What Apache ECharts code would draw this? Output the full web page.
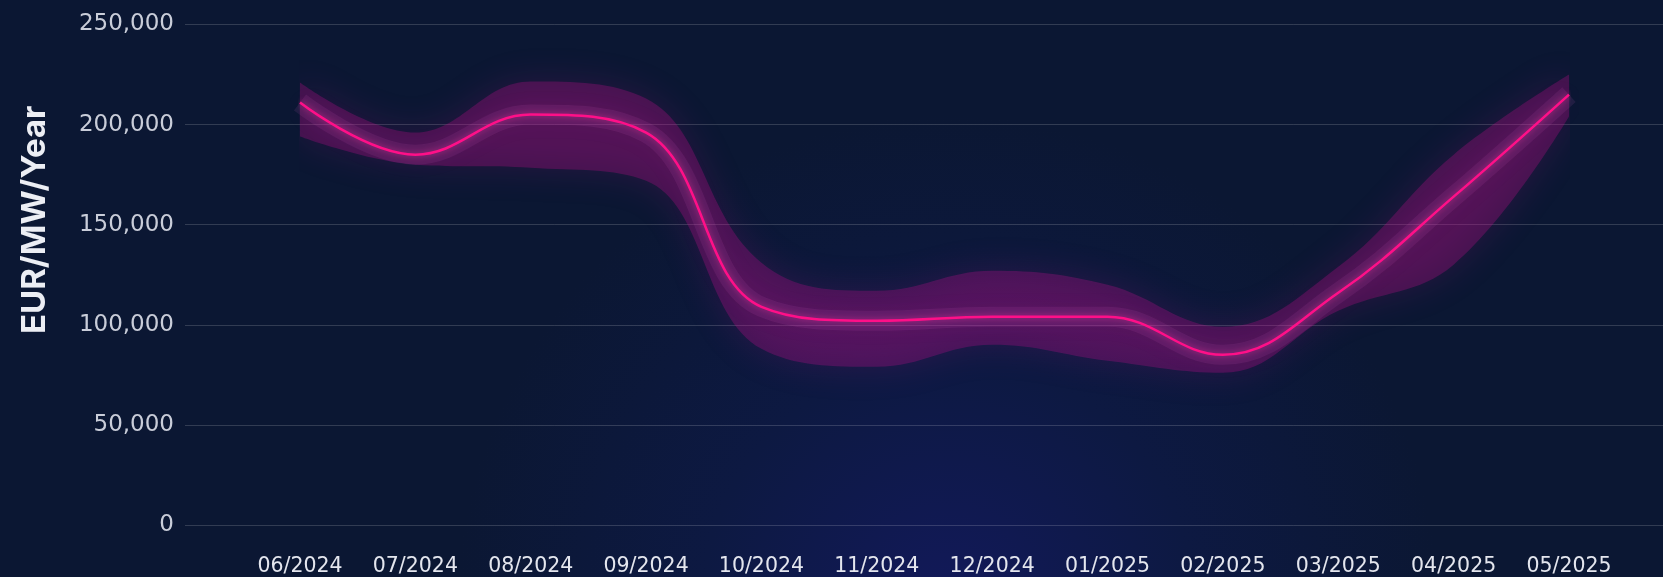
<!DOCTYPE html>
<html>
<head>
<meta charset="utf-8">
<script src="https://cdn.jsdelivr.net/npm/echarts@6/dist/echarts.min.js"></script>
<style>
html,body{margin:0;padding:0;background:#0b1733;}
#chart{width:1663px;height:577px;}
</style>
</head>
<body>
<div id="chart"></div>
<script>
const categories = ['06/2024','07/2024','08/2024','09/2024','10/2024','11/2024','12/2024','01/2025','02/2025','03/2025','04/2025','05/2025'];
const midValues   = [211000, 185000, 205000, 196000, 109000, 102000, 104000, 104000, 85000, 116000, 164000, 215000];
const upperValues = [221000, 196000, 221500, 213000, 131000, 117000, 127000, 120000, 99000, 129000, 185000, 225000];
const lowerValues = [194000, 180000, 178500, 172000, 88000, 79000, 90000, 82000, 76000, 107000, 130000, 204000];
const yTicks = [0, 50000, 100000, 150000, 200000, 250000];

const bandValues = upperValues.map((u, i) => u - lowerValues[i]);
const yMin = yTicks[0], yMax = yTicks[yTicks.length - 1], yStep = yTicks[1] - yTicks[0];

const chart = echarts.init(document.getElementById('chart'));
chart.setOption({
  backgroundColor: {
    type: 'radial', x: 0.57, y: 1.05, r: 0.85,
    colorStops: [
      {offset: 0, color: '#12195a'},
      {offset: 0.5, color: '#0d1942'},
      {offset: 1, color: '#0b1733'}
    ]
  },
  animation: false,
  grid: [
    {left: 185, right: 0, top: 24.5, bottom: 52},
    {left: 300, right: 94, top: 24.5, bottom: 52}
  ],
  xAxis: [
    {gridIndex: 0, type: 'value', min: 0, max: 1, show: false},
    {
      gridIndex: 1, type: 'category', data: categories, boundaryGap: false,
      axisLine: {show: false}, axisTick: {show: false}, splitLine: {show: false},
      axisLabel: {margin: 31, color: '#e4e6ee', fontSize: 20.5, fontFamily: 'DejaVu Sans', interval: 0}
    }
  ],
  yAxis: [
    {
      gridIndex: 0, type: 'value', min: yMin, max: yMax, interval: yStep,
      name: 'EUR/MW/Year', nameLocation: 'middle', nameGap: 133,
      nameTextStyle: {color: '#eceef4', fontSize: 33, fontWeight: 'bold', fontFamily: 'Inter', padding: [0, 0, 0, 110]},
      axisLine: {show: false}, axisTick: {show: false},
      splitLine: {lineStyle: {color: 'rgba(255,255,255,0.16)', width: 1}},
      axisLabel: {
        margin: 11, color: '#c9cdd9', fontSize: 23, fontFamily: 'DejaVu Sans',
        formatter: v => v.toLocaleString('en-US')
      }
    },
    {gridIndex: 1, type: 'value', min: yMin, max: yMax, interval: yStep, show: false, splitLine: {show: false}}
  ],
  series: [
    {
      type: 'line', xAxisIndex: 1, yAxisIndex: 1, data: lowerValues, stack: 'band', smooth: 0.4, symbol: 'none',
      lineStyle: {opacity: 0}, silent: true
    },
    {
      type: 'line', xAxisIndex: 1, yAxisIndex: 1, data: bandValues, stack: 'band', smooth: 0.4, symbol: 'none',
      lineStyle: {opacity: 0},
      areaStyle: {color: 'rgba(205,10,145,0.38)', shadowBlur: 36, shadowColor: 'rgba(190,25,150,0.6)'},
      silent: true
    },
    {
      type: 'line', xAxisIndex: 1, yAxisIndex: 1, data: midValues, smooth: 0.4, symbol: 'none',
      lineStyle: {width: 20, color: 'rgba(225,110,210,0.1)', shadowBlur: 25, shadowColor: 'rgba(225,110,210,0.3)'},
      silent: true
    },
    {
      type: 'line', xAxisIndex: 1, yAxisIndex: 1, data: midValues, smooth: 0.4, symbol: 'none',
      lineStyle: {width: 2.5, color: '#ff0f88', shadowBlur: 6, shadowColor: 'rgba(255,60,160,0.6)'}
    }
  ]
});
</script>
</body>
</html>
